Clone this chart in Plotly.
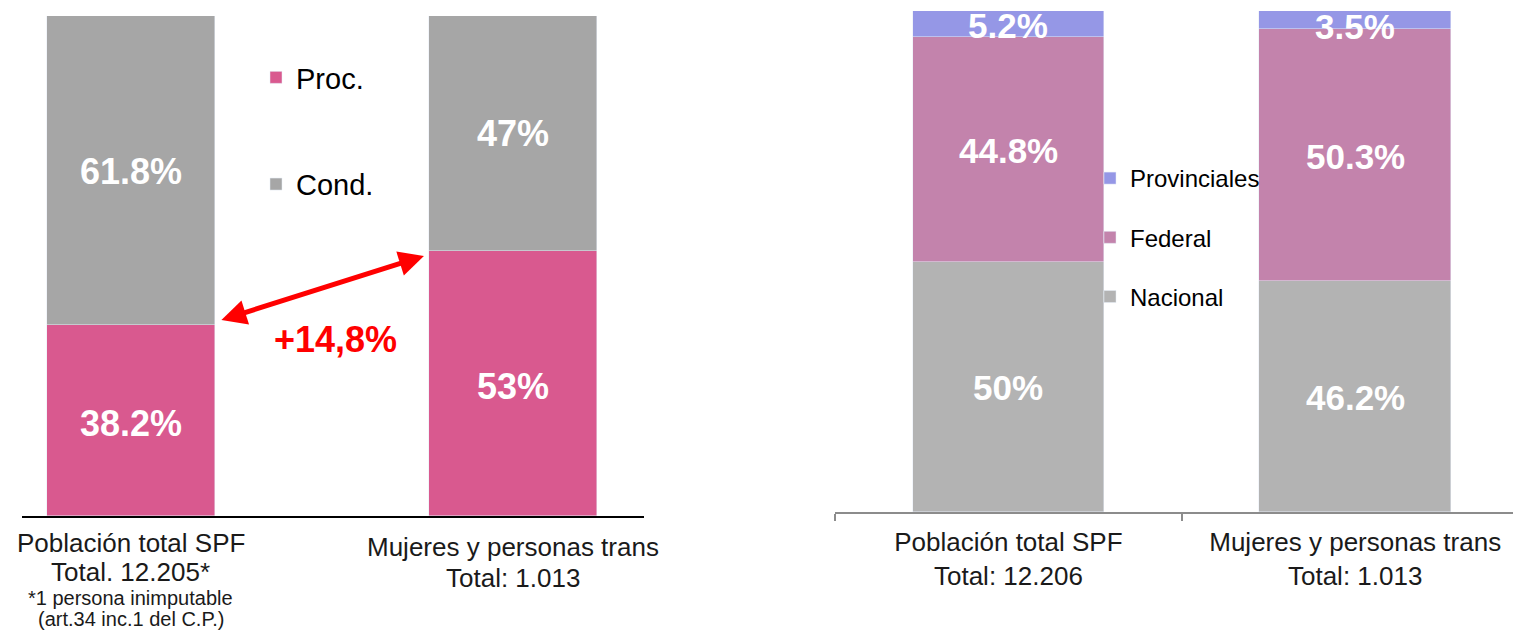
import plotly.graph_objects as go

W, H = 1513, 631
FONT = "Liberation Sans, Arial, sans-serif"

# ---------------- data: left chart ----------------
left_cats = ["Población total SPF", "Mujeres y personas trans"]
left_totals = ["Total. 12.205*", "Total: 1.013"]
left_note = ["*1 persona inimputable", "(art.34 inc.1 del C.P.)"]
proc = [38.2, 53.0]
cond = [61.8, 47.0]
proc_labels = ["38.2%", "53%"]
cond_labels = ["61.8%", "47%"]
diff_label = "+14,8%"

# ---------------- data: right chart ----------------
right_cats = ["Población total SPF", "Mujeres y personas trans"]
right_totals = ["Total: 12.206", "Total: 1.013"]
nacional = [50.0, 46.2]
federal = [44.8, 50.3]
provinciales = [5.2, 3.5]
nac_labels = ["50%", "46.2%"]
fed_labels = ["44.8%", "50.3%"]
prov_labels = ["5.2%", "3.5%"]

# colours
C_PROC = "#D9598F"
C_COND = "#A6A6A6"
C_NAC = "#B3B3B3"
C_FED = "#C383AC"
C_PROV = "#9597E6"

LW = 0.44   # left bar width (category units)
RW = 0.553  # right bar width

right_x = [f"{c}<br>{t}" for c, t in zip(right_cats, right_totals)]

fig = go.Figure()

# left chart bars
fig.add_trace(go.Bar(x=left_cats, y=proc, name="Proc.", marker_color=C_PROC,
                     width=LW, xaxis="x", yaxis="y", legend="legend",
                     legendgroup="proc", legendrank=1, hoverinfo="skip"))
fig.add_trace(go.Bar(x=left_cats, y=cond, name="Cond.", marker_color=C_COND,
                     width=LW, xaxis="x", yaxis="y", legend="legend",
                     legendgroup="cond", legendrank=2, hoverinfo="skip"))

# right chart bars
fig.add_trace(go.Bar(x=right_x, y=nacional, name="Nacional", marker_color=C_NAC,
                     width=RW, xaxis="x2", yaxis="y2", legend="legend2",
                     legendgroup="nac", legendrank=3, hoverinfo="skip"))
fig.add_trace(go.Bar(x=right_x, y=federal, name="Federal", marker_color=C_FED,
                     width=RW, xaxis="x2", yaxis="y2", legend="legend2",
                     legendgroup="fed", legendrank=2, hoverinfo="skip"))
fig.add_trace(go.Bar(x=right_x, y=provinciales, name="Provinciales", marker_color=C_PROV,
                     width=RW, xaxis="x2", yaxis="y2", legend="legend2",
                     legendgroup="prov", legendrank=1, hoverinfo="skip"))

annotations = []

def seg_labels(xvals, bases, vals, labels, xref, yref, size, yshifts=None):
    for i, (xv, b, v, t) in enumerate(zip(xvals, bases, vals, labels)):
        annotations.append(dict(
            x=xv, y=b + v / 2, xref=xref, yref=yref, text=t, showarrow=False,
            font=dict(family=FONT, size=size, color="white", weight="bold"),
            xanchor="center", yanchor="middle",
            yshift=(yshifts[i] if yshifts else 0)))

# left labels
seg_labels(left_cats, [0, 0], proc, proc_labels, "x", "y", 36, [-3, -3])
seg_labels(left_cats, proc, cond, cond_labels, "x", "y", 36, [-1, 0])
# right labels
nf = [n + f for n, f in zip(nacional, federal)]
seg_labels(right_x, [0, 0], nacional, nac_labels, "x2", "y2", 35, [-1, -1])
seg_labels(right_x, nacional, federal, fed_labels, "x2", "y2", 35, [-1, -2])
seg_labels(right_x, nf, provinciales, prov_labels, "x2", "y2", 35, [-1, -7])

# left category labels (annotations for custom line spacing)
line1_px = [543, 547]
line2_px = [572, 578]
for i, c in enumerate(left_cats):
    annotations.append(dict(x=c, y=(H - line1_px[i]) / H, xref="x", yref="paper",
                            text=c, showarrow=False, xanchor="center", yanchor="middle",
                            font=dict(family=FONT, size=26, color="#1a1a1a")))
    annotations.append(dict(x=c, y=(H - line2_px[i]) / H, xref="x", yref="paper",
                            text=left_totals[i], showarrow=False, xanchor="center",
                            yanchor="middle",
                            font=dict(family=FONT, size=26, color="#1a1a1a")))
note_px = [598, 619]
for j, t in enumerate(left_note):
    annotations.append(dict(x=left_cats[0], y=(H - note_px[j]) / H, xref="x", yref="paper",
                            text=t, showarrow=False, xanchor="center", yanchor="middle",
                            font=dict(family=FONT, size=20, color="#1a1a1a")))

# double arrow between the Proc. tops
annotations.append(dict(
    x=1 - LW / 2 - 0.013, y=proc[1] - 1.0, xref="x", yref="y",
    ax=0 + LW / 2 + 0.013, ay=proc[0] + 0.9, axref="x", ayref="y",
    text="", showarrow=True, arrowhead=2, startarrowhead=2, arrowside="end+start",
    arrowwidth=5, arrowsize=1, startarrowsize=1, arrowcolor="#FF0000"))
annotations.append(dict(
    x=335 / W, y=(H - 339) / H, xref="paper", yref="paper", text=diff_label,
    showarrow=False, xanchor="center", yanchor="middle",
    font=dict(family=FONT, size=36, color="#FF0000", weight="bold")))

fig.update_layout(
    width=W, height=H, margin=dict(l=0, r=0, t=0, b=0),
    paper_bgcolor="white", plot_bgcolor="rgba(0,0,0,0)",
    barmode="stack", bargap=0,
    showlegend=True,
    font=dict(family=FONT, color="#1a1a1a"),
    xaxis=dict(domain=[22 / W, 644 / W], range=[-0.285, 1.343], type="category",
               showline=True, linecolor="#000000", linewidth=2, ticks="",
               showticklabels=False, showgrid=False, zeroline=False, anchor="y",
               fixedrange=True),
    yaxis=dict(domain=[(H - 516) / H, (H - 16) / H], range=[0, 100], visible=False,
               anchor="x", fixedrange=True),
    xaxis2=dict(domain=[835 / W, 1.0], range=[-0.5, 1.455], type="category",
                showline=True, linecolor="#8C8C8C", linewidth=1.5,
                ticks="outside", tickson="boundaries", ticklen=7, tickwidth=1.5,
                tickcolor="#8C8C8C", showgrid=False, zeroline=False, anchor="y2",
                ticklabelstandoff=6,
                tickfont=dict(family=FONT, size=26, color="#1a1a1a"),
                fixedrange=True),
    yaxis2=dict(domain=[(H - 512) / H, (H - 11) / H], range=[0, 100], visible=False,
                anchor="x2", fixedrange=True),
    legend=dict(x=256 / W, y=(H - 52) / H, xanchor="left", yanchor="top",
                font=dict(family=FONT, size=29, color="#000000"),
                tracegroupgap=66, traceorder="grouped", bgcolor="rgba(0,0,0,0)"),
    legend2=dict(x=1090 / W, y=(H - 156) / H, xanchor="left", yanchor="top",
                 font=dict(family=FONT, size=24, color="#000000"),
                 tracegroupgap=25, traceorder="grouped",
                 bgcolor="rgba(0,0,0,0)"),
    annotations=annotations,
)

fig.write_html("out.html", config={"displayModeBar": False},
               post_script="document.body.style.margin='0';document.body.style.overflow='hidden';")
